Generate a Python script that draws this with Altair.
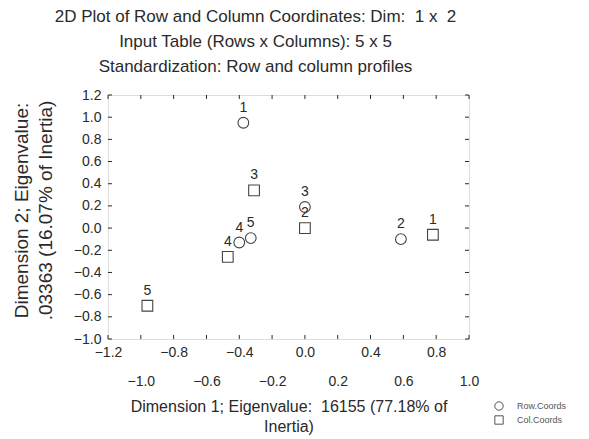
import altair as alt
import pandas as pd

# ---- data ----
row_ids = ["1", "2", "3", "4", "5"]
row_x = [-0.375, 0.585, 0.0, -0.40, -0.33]
row_y = [0.95, -0.10, 0.19, -0.13, -0.09]

col_ids = ["1", "2", "3", "4", "5"]
col_x = [0.78, 0.0, -0.31, -0.47, -0.96]
col_y = [-0.06, 0.0, 0.34, -0.26, -0.70]

x_ticks = [-1.2, -1.0, -0.8, -0.6, -0.4, -0.2, 0.0, 0.2, 0.4, 0.6, 0.8, 1.0]
y_ticks = [-1.0, -0.8, -0.6, -0.4, -0.2, 0.0, 0.2, 0.4, 0.6, 0.8, 1.0, 1.2]

title_lines = [
    "2D Plot of Row and Column Coordinates: Dim:\u00a0 1 x\u00a0 2",
    "Input Table (Rows x Columns): 5 x 5",
    "Standardization: Row and column profiles",
]
x_title = ["Dimension 1; Eigenvalue:\u00a0 16155 (77.18% of", "Inertia)"]
y_title = ["Dimension 2; Eigenvalue:", ".03363 (16.07% of Inertia)"]
legend_names = ["Row.Coords", "Col.Coords"]

W, H = 361, 244
FONT = "Liberation Sans"
INK = "#2a2a2a"

pts = pd.DataFrame(
    {
        "x": row_x + col_x,
        "y": row_y + col_y,
        "id": row_ids + col_ids,
        "type": [legend_names[0]] * len(row_ids) + [legend_names[1]] * len(col_ids),
    }
)
xt = pd.DataFrame({"v": x_ticks})
yt = pd.DataFrame({"v": y_ticks})

xscale = alt.Scale(domain=[-1.2, 1.0], nice=False, zero=False)
yscale = alt.Scale(domain=[-1.0, 1.2], nice=False, zero=False)

xaxis = alt.Axis(
    values=x_ticks,
    format=".1f",
    title=x_title,
    titleFont=FONT,
    titleFontSize=16,
    titleFontWeight="normal",
    titleColor=INK,
    titleLineHeight=20,
    titlePadding=10,
    labelFont=FONT,
    labelFontSize=14,
    labelColor=INK,
    labelFlush=False,
    labelOverlap=False,
    labelPadding={
        "condition": {"test": "abs(round(datum.value*10)) % 4 == 0", "value": 6},
        "value": 35,
    },
    ticks=False,
    domain=False,
    grid=False,
)
yaxis = alt.Axis(
    values=y_ticks,
    format=".1f",
    title=y_title,
    titleFont=FONT,
    titleFontSize=19,
    titleFontWeight="normal",
    titleColor=INK,
    titleLineHeight=24,
    titlePadding=18,
    titleY=115,
    labelFont=FONT,
    labelFontSize=14,
    labelColor=INK,
    labelFlush=False,
    labelOverlap=False,
    labelPadding=7,
    ticks=False,
    domain=False,
    grid=False,
)

X = alt.X("x:Q", scale=xscale, axis=xaxis)
Y = alt.Y("y:Q", scale=yscale, axis=yaxis)

points = (
    alt.Chart(pts)
    .mark_point(filled=False, size=115, strokeWidth=1.1, opacity=1)
    .encode(
        x=X,
        y=Y,
        shape=alt.Shape(
            "type:N",
            scale=alt.Scale(domain=legend_names, range=["circle", "square"]),
            legend=alt.Legend(
                title=None,
                orient="none",
                legendX=386,
                legendY=306,
                symbolSize=70,
                symbolStrokeWidth=1,
                symbolStrokeColor="#555",
                labelFont=FONT,
                labelFontSize=9,
                labelColor="#555",
                labelOffset=13,
                rowPadding=0,
            ),
        ),
        color=alt.value("#444"),
    )
)

labels = (
    alt.Chart(pts)
    .mark_text(font=FONT, fontSize=14, color=INK, baseline="bottom", dy=-8)
    .encode(x=X, y=Y, text="id:N")
)

tick_len = 4
bottom_ticks = alt.Chart(xt).mark_rule(color=INK, strokeWidth=1).encode(
    x=alt.X("v:Q", scale=xscale, axis=xaxis), y=alt.value(H), y2=alt.value(H - tick_len)
)
top_ticks = alt.Chart(xt).mark_rule(color=INK, strokeWidth=1).encode(
    x=alt.X("v:Q", scale=xscale, axis=xaxis), y=alt.value(0), y2=alt.value(tick_len)
)
left_ticks = alt.Chart(yt).mark_rule(color=INK, strokeWidth=1).encode(
    y=alt.Y("v:Q", scale=yscale, axis=yaxis), x=alt.value(0), x2=alt.value(tick_len)
)
right_ticks = alt.Chart(yt).mark_rule(color=INK, strokeWidth=1).encode(
    y=alt.Y("v:Q", scale=yscale, axis=yaxis), x=alt.value(W), x2=alt.value(W - tick_len)
)

chart = (
    alt.layer(bottom_ticks, top_ticks, left_ticks, right_ticks, points, labels)
    .properties(
        width=W,
        height=H,
        autosize=alt.AutoSizeParams(type="none"),
        padding={"left": 100, "top": 87, "right": 110, "bottom": 100},
        title=alt.TitleParams(
            text=title_lines,
            font=FONT,
            fontSize=17,
            fontWeight="normal",
            color=INK,
            lineHeight=25,
            anchor="middle",
            dx=-33,
            offset=12,
        ),
    )
    .configure_view(stroke="#222", strokeWidth=1.5)
    .configure(background="white")
)

chart.save("out.html", embed_options={"renderer": "svg", "actions": False})
